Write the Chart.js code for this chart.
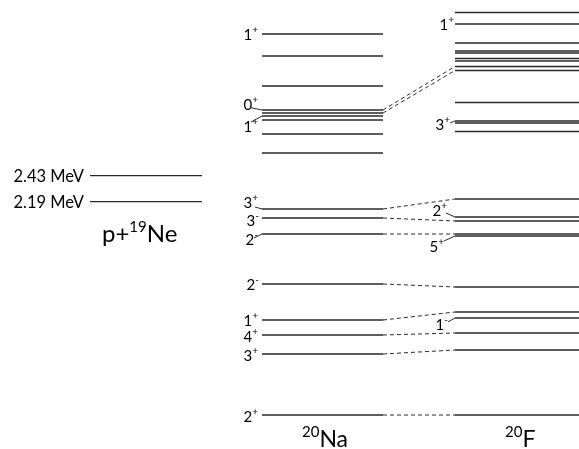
<!DOCTYPE html>
<html>
<head>
<meta charset="utf-8">
<script src="https://cdn.jsdelivr.net/npm/chart.js@4.4.0/dist/chart.umd.min.js"></script>
<style>
  html, body { margin: 0; padding: 0; background: #fff; }
  #wrap { width: 579px; height: 449px; }
</style>
</head>
<body>
<div id="wrap"><canvas id="levels"></canvas></div>
<script>
// Level heights (diagram units, 0 = bottom of picture)
const naLevels = [415, 393, 363, 339, 336, 333, 329, 315, 296, 240, 231, 215, 165, 129, 114, 95, 34];
const naSpins  = ['1+', null, null, '0+', null, '1+', null, null, null, '3+', '3-', '2-', '2-', '1+', '4+', '3+', '2+'];

const fLevels = [436.5, 425, 406, 398, 396, 390.5, 388, 382.5, 378.5, 346.5, 328, 326, 317.5,
                 250, 232, 228, 215, 213, 162, 137, 131, 116, 99, 34];
const fSpins  = [null, '1+', null, null, null, null, null, null, null, null, '3+', null, null,
                 null, '2+', null, null, '5+', null, null, '1-', null, null, null];

const thresholdLevels = [273.3, 247.3];
const thresholdNames  = ['2.43 MeV', '2.19 MeV'];

// analog states: [Na index, F index]
const links = [[3, 7], [4, 8], [9, 13], [10, 15], [11, 16], [12, 18], [13, 19], [14, 21], [15, 22], [16, 23]];

// horizontal extents of each column
const NA_X = [262, 383];
const F_X = [455, 579];
const THR_X = [90, 202];

// label layout: dy = pixel shift of label from level, lead = leader start, right = text right edge
const naLayout = {
  0: { dy: 0 }, 3: { dy: -6, lead: [250, -2.5] }, 5: { dy: 10, lead: [251, 6] },
  9: { dy: -7, lead: [255, -2] }, 10: { dy: 2, right: 259 }, 11: { dy: 5, lead: [254, 4] },
  12: { dy: 0, right: 259 }, 13: { dy: 0, right: 258 }, 14: { dy: 1 }, 15: { dy: 1 }, 16: { dy: 1 }
};
const fLayout = {
  1: { dy: 0, right: 454 }, 10: { dy: 3, right: 450, lead: [450, 2] },
  14: { dy: -7, right: 447, lead: [446, -4] }, 17: { dy: 10, right: 444, lead: [444, 5] },
  20: { dy: 6, right: 448, lead: [448, 4] }
};

const LINE = '#2a2a2a';

function segments(levels, xr) {
  const pts = [];
  levels.forEach(v => {
    pts.push({ x: xr[0], y: v }, { x: xr[1], y: v }, { x: xr[1], y: null });
  });
  return pts;
}

const linkPts = [];
links.forEach(([a, b]) => {
  linkPts.push({ x: NA_X[1], y: naLevels[a] }, { x: F_X[0], y: fLevels[b] }, { x: F_X[0], y: null });
});

function lineSet(data, extra) {
  return Object.assign({
    data, showLine: true, spanGaps: false, pointRadius: 0, borderColor: LINE,
    borderWidth: 1.3, fill: false, tension: 0
  }, extra || {});
}

function drawSpin(ctx, s, right, cy) {
  const main = s[0], sign = s[1];
  ctx.font = '15px Lato';
  const wm = ctx.measureText(main).width;
  ctx.font = '10px Lato';
  const ws = ctx.measureText(sign).width;
  const left = right - wm - ws;
  ctx.textBaseline = 'middle';
  ctx.textAlign = 'left';
  ctx.font = '15px Lato';
  ctx.fillText(main, left, cy + 1);
  ctx.font = '10px Lato';
  ctx.fillText(sign, left + wm, cy - 4);
}

const labelPlugin = {
  id: 'levelLabels',
  afterDatasetsDraw(chart) {
    const ctx = chart.ctx;
    const xs = chart.scales.x, ys = chart.scales.y;
    ctx.save();
    ctx.fillStyle = '#000';
    ctx.strokeStyle = LINE;
    ctx.lineWidth = 1;

    const put = (levels, spins, layout, x0, defRight) => {
      spins.forEach((s, i) => {
        if (!s) return;
        const lay = layout[i] || { dy: 0 };
        const py = ys.getPixelForValue(levels[i]);
        const right = lay.right || defRight;
        drawSpin(ctx, s, right, py + lay.dy);
        if (lay.lead) {
          ctx.beginPath();
          ctx.moveTo(lay.lead[0], py + lay.lead[1]);
          ctx.lineTo(xs.getPixelForValue(x0), py);
          ctx.stroke();
        }
      });
    };
    put(naLevels, naSpins, naLayout, NA_X[0], 258);
    put(fLevels, fSpins, fLayout, F_X[0], 453);

    // threshold labels
    ctx.textAlign = 'right';
    ctx.textBaseline = 'middle';
    ctx.font = '16.5px Lato';
    thresholdLevels.forEach((v, i) => {
      ctx.fillText(thresholdNames[i], xs.getPixelForValue(THR_X[0]) - 6, ys.getPixelForValue(v) + 1);
    });

    // nucleus names
    ctx.textAlign = 'left';
    ctx.textBaseline = 'alphabetic';
    const nucleus = (pre, sup, name, x, base, big, small) => {
      let cx = x;
      ctx.font = big + 'px Lato';
      if (pre) { ctx.fillText(pre, cx, base); cx += ctx.measureText(pre).width; }
      ctx.font = small + 'px Lato';
      ctx.fillText(sup, cx, base - big * 0.42);
      cx += ctx.measureText(sup).width;
      ctx.font = big + 'px Lato';
      ctx.fillText(name, cx, base);
    };
    nucleus('p+', '19', 'Ne', 102, 242, 24, 15);
    nucleus('', '20', 'Na', 302, 447, 23, 15);
    nucleus('', '20', 'F', 505, 447, 23, 15);
    ctx.restore();
  }
};

new Chart(document.getElementById('levels'), {
  type: 'scatter',
  data: {
    datasets: [
      lineSet(segments(naLevels, NA_X)),
      lineSet(segments(fLevels, F_X)),
      lineSet(segments(thresholdLevels, THR_X)),
      lineSet(linkPts, { borderDash: [4, 3], borderWidth: 1 })
    ]
  },
  options: {
    responsive: true,
    maintainAspectRatio: false,
    animation: false,
    layout: { padding: 0 },
    plugins: { legend: { display: false }, tooltip: { enabled: false } },
    scales: {
      x: { type: 'linear', min: 0, max: 579, display: false },
      y: { type: 'linear', min: 0, max: 449, display: false }
    }
  },
  plugins: [labelPlugin]
});
</script>
</body>
</html>
